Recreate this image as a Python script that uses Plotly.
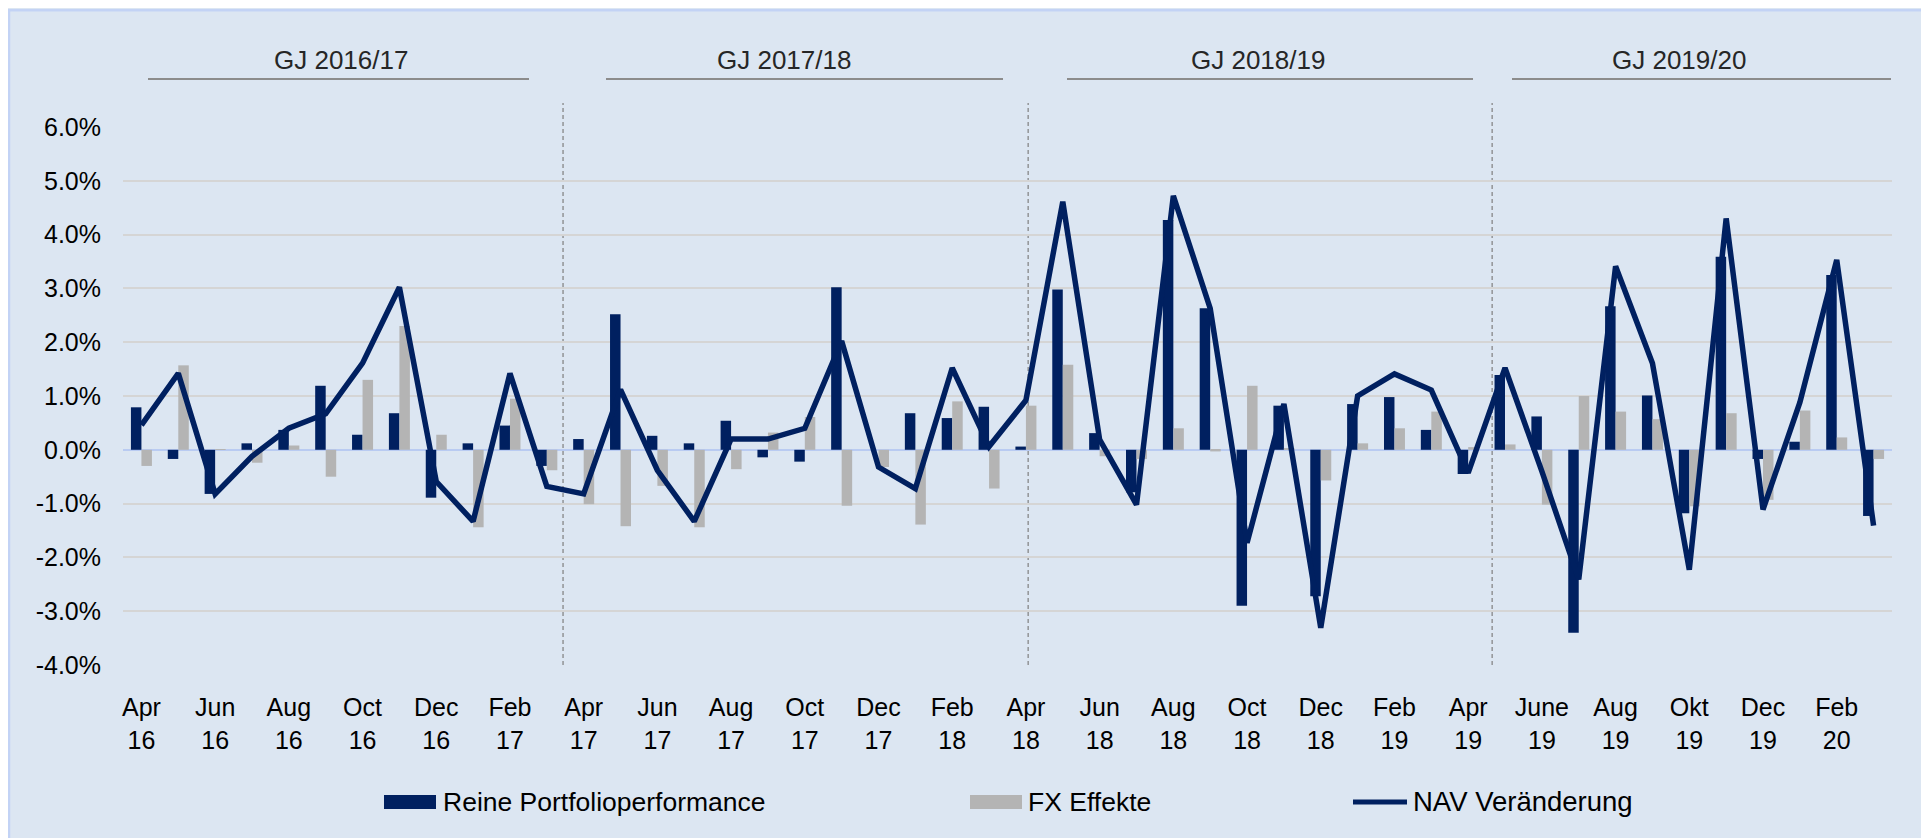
import plotly.graph_objects as go

# ---------------- data (percent) ----------------
months = ["Apr 16", "May 16", "Jun 16", "Jul 16", "Aug 16", "Sep 16", "Oct 16", "Nov 16",
          "Dec 16", "Jan 17", "Feb 17", "Mar 17", "Apr 17", "May 17", "Jun 17", "Jul 17",
          "Aug 17", "Sep 17", "Oct 17", "Nov 17", "Dec 17", "Jan 18", "Feb 18", "Mar 18",
          "Apr 18", "May 18", "Jun 18", "Jul 18", "Aug 18", "Sep 18", "Oct 18", "Nov 18",
          "Dec 18", "Jan 19", "Feb 19", "Mar 19", "Apr 19", "May 19", "Jun 19", "Jul 19",
          "Aug 19", "Sep 19", "Oct 19", "Nov 19", "Dec 19", "Jan 20", "Feb 20", "Mar 20"]

portfolio = [0.79, -0.17, -0.82, 0.12, 0.37, 1.19, 0.28, 0.68,
             -0.89, 0.12, 0.45, -0.30, 0.20, 2.52, 0.26, 0.12,
             0.54, -0.14, -0.22, 3.02, 0.00, 0.68, 0.59, 0.80,
             0.06, 2.98, 0.31, -0.79, 4.27, 2.63, -2.90, 0.82,
             -2.72, 0.85, 0.98, 0.37, -0.45, 1.39, 0.62, -3.40,
             2.67, 1.01, -1.18, 3.59, -0.17, 0.15, 3.25, -1.23]

fx = [-0.30, 1.57, 0.01, -0.24, 0.08, -0.50, 1.30, 2.30,
      0.28, -1.44, 0.95, -0.38, -1.01, -1.42, -0.67, -1.44,
      -0.36, 0.32, 0.61, -1.04, -0.32, -1.39, 0.90, -0.72,
      0.82, 1.58, -0.12, -0.17, 0.40, -0.03, 1.19, 0.02,
      -0.57, 0.12, 0.40, 0.71, 0.05, 0.10, -1.02, 1.00,
      0.71, 0.57, -1.05, 0.68, -0.93, 0.73, 0.23, -0.17]

nav = [0.46, 1.42, -0.82, -0.12, 0.40, 0.67, 1.61, 3.02,
       -0.59, -1.33, 1.42, -0.68, -0.82, 1.12, -0.38, -1.33,
       0.20, 0.20, 0.40, 2.02, -0.32, -0.72, 1.52, 0.06,
       0.92, 4.61, 0.19, -1.02, 4.72, 2.63, -1.73, 0.85,
       -3.31, 1.00, 1.41, 1.11, -0.43, 1.52, -0.40, -2.41,
       3.41, 1.61, -2.23, 4.30, -1.11, 0.88, 3.53, -1.41]

tick_labels = ["Apr<br>16", "Jun<br>16", "Aug<br>16", "Oct<br>16", "Dec<br>16", "Feb<br>17",
               "Apr<br>17", "Jun<br>17", "Aug<br>17", "Oct<br>17", "Dec<br>17", "Feb<br>18",
               "Apr<br>18", "Jun<br>18", "Aug<br>18", "Oct<br>18", "Dec<br>18", "Feb<br>19",
               "Apr<br>19", "June<br>19", "Aug<br>19", "Okt<br>19", "Dec<br>19", "Feb<br>20"]

y_ticks = [6, 5, 4, 3, 2, 1, 0, -1, -2, -3, -4]
y_tick_text = [("%.1f%%" % v) for v in y_ticks]

fiscal_years = ["GJ 2016/17", "GJ 2017/18", "GJ 2018/19", "GJ 2019/20"]
fy_breaks = [11.44, 24.06, 36.65]

# ---------------- geometry (page pixels -> paper coords) ----------------
OFF = 8                      # browser body margin
W, H = 1921, 830
ML, MR, MT, MB = 115, 37, 119, 173
PW, PH = W - ML - MR, H - MT - MB


def px_x(px):
    return (px - OFF - ML) / PW


def px_y(py):
    return (H - MB - (py - OFF)) / PH


FONT = "Liberation Sans, Arial, sans-serif"
NAVY = "#002060"
GREY = "#B4B4B4"
BG = "#DCE6F2"

x = list(range(len(months)))

fig = go.Figure()
fig.add_trace(go.Bar(x=x, y=portfolio, name="Reine Portfolioperformance",
                     marker=dict(color=NAVY, line=dict(width=0)), showlegend=False,
                     customdata=months, hovertemplate="%{customdata}: %{y:.2f}%"))
fig.add_trace(go.Bar(x=x, y=fx, name="FX Effekte",
                     marker=dict(color=GREY, line=dict(width=0)), showlegend=False,
                     customdata=months, hovertemplate="%{customdata}: %{y:.2f}%"))
fig.add_trace(go.Scatter(x=x, y=nav, name="NAV Veränderung", mode="lines",
                         line=dict(color=NAVY, width=5.5), showlegend=False,
                         customdata=months, hovertemplate="%{customdata}: %{y:.2f}%"))

shapes = []
# light-blue border around the chart area
shapes.append(dict(type="rect", xref="paper", yref="paper", layer="below",
                   x0=px_x(9.0), x1=px_x(1928.0), y0=px_y(860), y1=px_y(10.3),
                   fillcolor=BG, line=dict(color="#C3D3F5", width=2.5)))
# fiscal year separators
for b in fy_breaks:
    shapes.append(dict(type="line", xref="x", yref="paper", layer="between",
                       x0=b, x1=b, y0=0, y1=px_y(103),
                       line=dict(color="#7F7F7F", width=1.2, dash="4px,3px")))
# fiscal year header rules
fy_line_px = [(148, 529), (606, 1003), (1067, 1473), (1512, 1891)]
fy_text_px = [341, 784, 1258, 1679]
for (a, b) in fy_line_px:
    shapes.append(dict(type="line", xref="paper", yref="paper",
                       x0=px_x(a), x1=px_x(b), y0=px_y(79), y1=px_y(79),
                       line=dict(color="#8C8C8C", width=1.8)))

annotations = []
for t, cx in zip(fiscal_years, fy_text_px):
    annotations.append(dict(text=t, xref="paper", yref="paper", x=px_x(cx), y=px_y(60),
                            xanchor="center", yanchor="middle", showarrow=False,
                            font=dict(family=FONT, size=26, color="#262626")))

# manual legend
leg_y = 802
shapes.append(dict(type="rect", xref="paper", yref="paper",
                   x0=px_x(384), x1=px_x(436), y0=px_y(809), y1=px_y(795),
                   fillcolor=NAVY, line=dict(width=0)))
shapes.append(dict(type="rect", xref="paper", yref="paper",
                   x0=px_x(970), x1=px_x(1022), y0=px_y(809), y1=px_y(795),
                   fillcolor=GREY, line=dict(width=0)))
shapes.append(dict(type="line", xref="paper", yref="paper",
                   x0=px_x(1353), x1=px_x(1407), y0=px_y(leg_y), y1=px_y(leg_y),
                   line=dict(color=NAVY, width=5)))
for t, lx, fs in [("Reine Portfolioperformance", 441, 26.5), ("FX Effekte", 1026, 26.5),
                  ("NAV Veränderung", 1411, 27.5)]:
    annotations.append(dict(text=t, xref="paper", yref="paper", x=px_x(lx), y=px_y(leg_y),
                            xanchor="left", yanchor="middle", showarrow=False,
                            font=dict(family=FONT, size=fs, color="#000000")))

fig.update_layout(
    width=W, height=H,
    margin=dict(l=ML, r=MR, t=MT, b=MB, pad=0),
    paper_bgcolor=BG, plot_bgcolor="rgba(0,0,0,0)",
    barmode="group", bargap=0.43, bargroupgap=0,
    font=dict(family=FONT, size=25, color="#000000"),
    shapes=shapes, annotations=annotations,
    showlegend=False,
    xaxis=dict(range=[-0.5, 47.5], tickmode="array",
               tickvals=list(range(0, 48, 2)), ticktext=tick_labels,
               showgrid=False, zeroline=False, showline=False, ticks="",
               ticklabelstandoff=25,
               tickfont=dict(family=FONT, size=25, color="#000000")),
    yaxis=dict(range=[-4, 6], tickmode="array", tickvals=y_ticks, ticktext=y_tick_text,
               showgrid=True, gridcolor="#D5D5D5", gridwidth=1.5,
               zeroline=True, zerolinecolor="#B9CBF2", zerolinewidth=2,
               showline=False, ticks="", ticklabelstandoff=21,
               tickfont=dict(family=FONT, size=25, color="#000000")),
)

fig.write_html("out.html")
